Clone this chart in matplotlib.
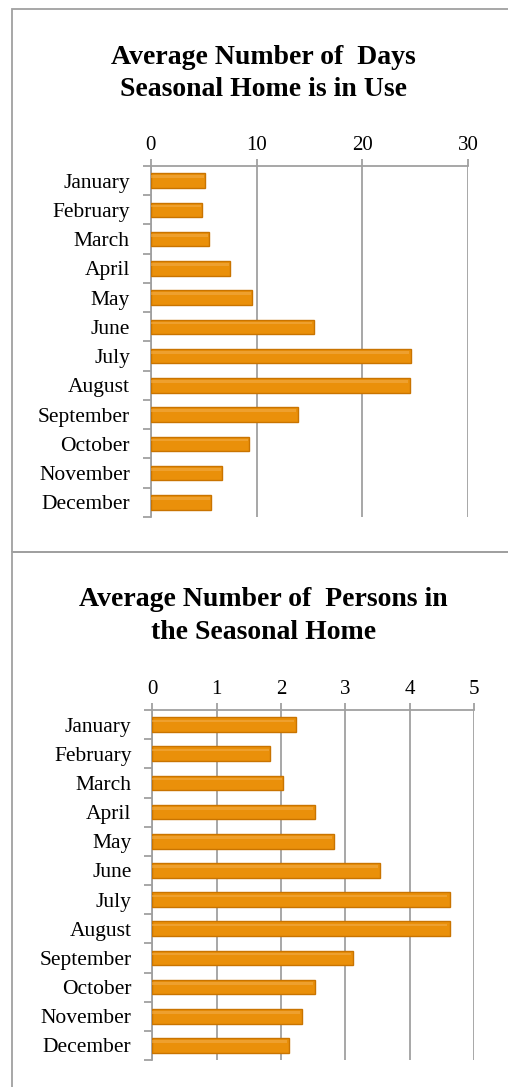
import matplotlib
matplotlib.use("Agg")
import matplotlib.pyplot as plt
from matplotlib.patches import Rectangle

plt.rcParams["font.family"] = ["Liberation Serif", "DejaVu Serif"]

# -------------------------
# Data
# -------------------------

months = ["January", "February", "March", "April", "May", "June",
          "July", "August", "September", "October", "November", "December"]

days_in_use = [5.1, 4.8, 5.5, 7.5, 9.6, 15.4, 24.6, 24.5, 13.9, 9.3, 6.7, 5.7]
persons = [2.23, 1.83, 2.03, 2.53, 2.82, 3.54, 4.63, 4.63, 3.12, 2.53, 2.32, 2.12]

days_ticks = [0, 10, 20, 30]
persons_ticks = [0, 1, 2, 3, 4, 5]

title_days = "Average Number of  Days\nSeasonal Home is in Use"
title_persons = "Average Number of  Persons in\nthe Seasonal Home"

# -------------------------
# Style
# -------------------------

bar_color = "#EA900A"
edge_color = "#C97400"
light_color = "#F4B55A"
grid_color = "#A0A0A0"

fig = plt.figure(figsize=(5.08, 10.87), dpi=100)

# panel borders
fig.patches.append(Rectangle((0.0236, 0.4922), 1.2, 0.4995, transform=fig.transFigure,
                             fill=False, edgecolor=grid_color, linewidth=1.3))
fig.patches.append(Rectangle((0.0236, -0.2), 1.2, 0.6922, transform=fig.transFigure,
                             fill=False, edgecolor=grid_color, linewidth=1.3))


def bar_panel(rect, values, ticks, title, title_y):
    ax = fig.add_axes(rect)
    y = list(range(len(months)))

    ax.barh(y, values, height=0.5, color=bar_color, edgecolor=edge_color,
            linewidth=1.0, zorder=3)
    # glossy highlight strip on the upper part of each bar
    ax.barh([v - 0.13 for v in y], [v * 0.99 for v in values], height=0.09,
            left=0, color=light_color, alpha=0.45, linewidth=0, zorder=4)

    ax.set_xlim(ticks[0], ticks[-1])
    ax.set_ylim(len(months) - 0.5, -0.5)

    ax.xaxis.tick_top()
    ax.set_xticks(ticks)
    ax.set_xticklabels([str(t) for t in ticks], fontsize=15)
    ax.tick_params(axis="x", direction="out", length=5, width=1.3,
                   color=grid_color, pad=3)

    ax.set_yticks(y)
    ax.set_yticklabels(months, fontsize=15.5)
    ax.set_yticks([v - 0.5 for v in range(len(months) + 1)], minor=True)
    ax.tick_params(axis="y", which="major", length=0, pad=15)
    ax.tick_params(axis="y", which="minor", direction="out", length=6,
                   width=1.3, color=grid_color)

    ax.grid(axis="x", color=grid_color, linewidth=1.3, zorder=0)
    ax.set_axisbelow(True)

    for side in ["right", "bottom"]:
        ax.spines[side].set_visible(False)
    for side in ["top", "left"]:
        ax.spines[side].set_color(grid_color)
        ax.spines[side].set_linewidth(1.3)

    fig.text(0.519, title_y, title, ha="center", va="center", fontsize=20,
             fontweight="bold", linespacing=1.4)
    return ax


bar_panel([0.2967, 0.5244, 0.6252, 0.3229], days_in_use, days_ticks,
          title_days, 0.9325)
bar_panel([0.2998, 0.0248, 0.6333, 0.3220], persons, persons_ticks,
          title_persons, 0.4335)

plt.savefig("out.png", dpi=100)
plt.close()
